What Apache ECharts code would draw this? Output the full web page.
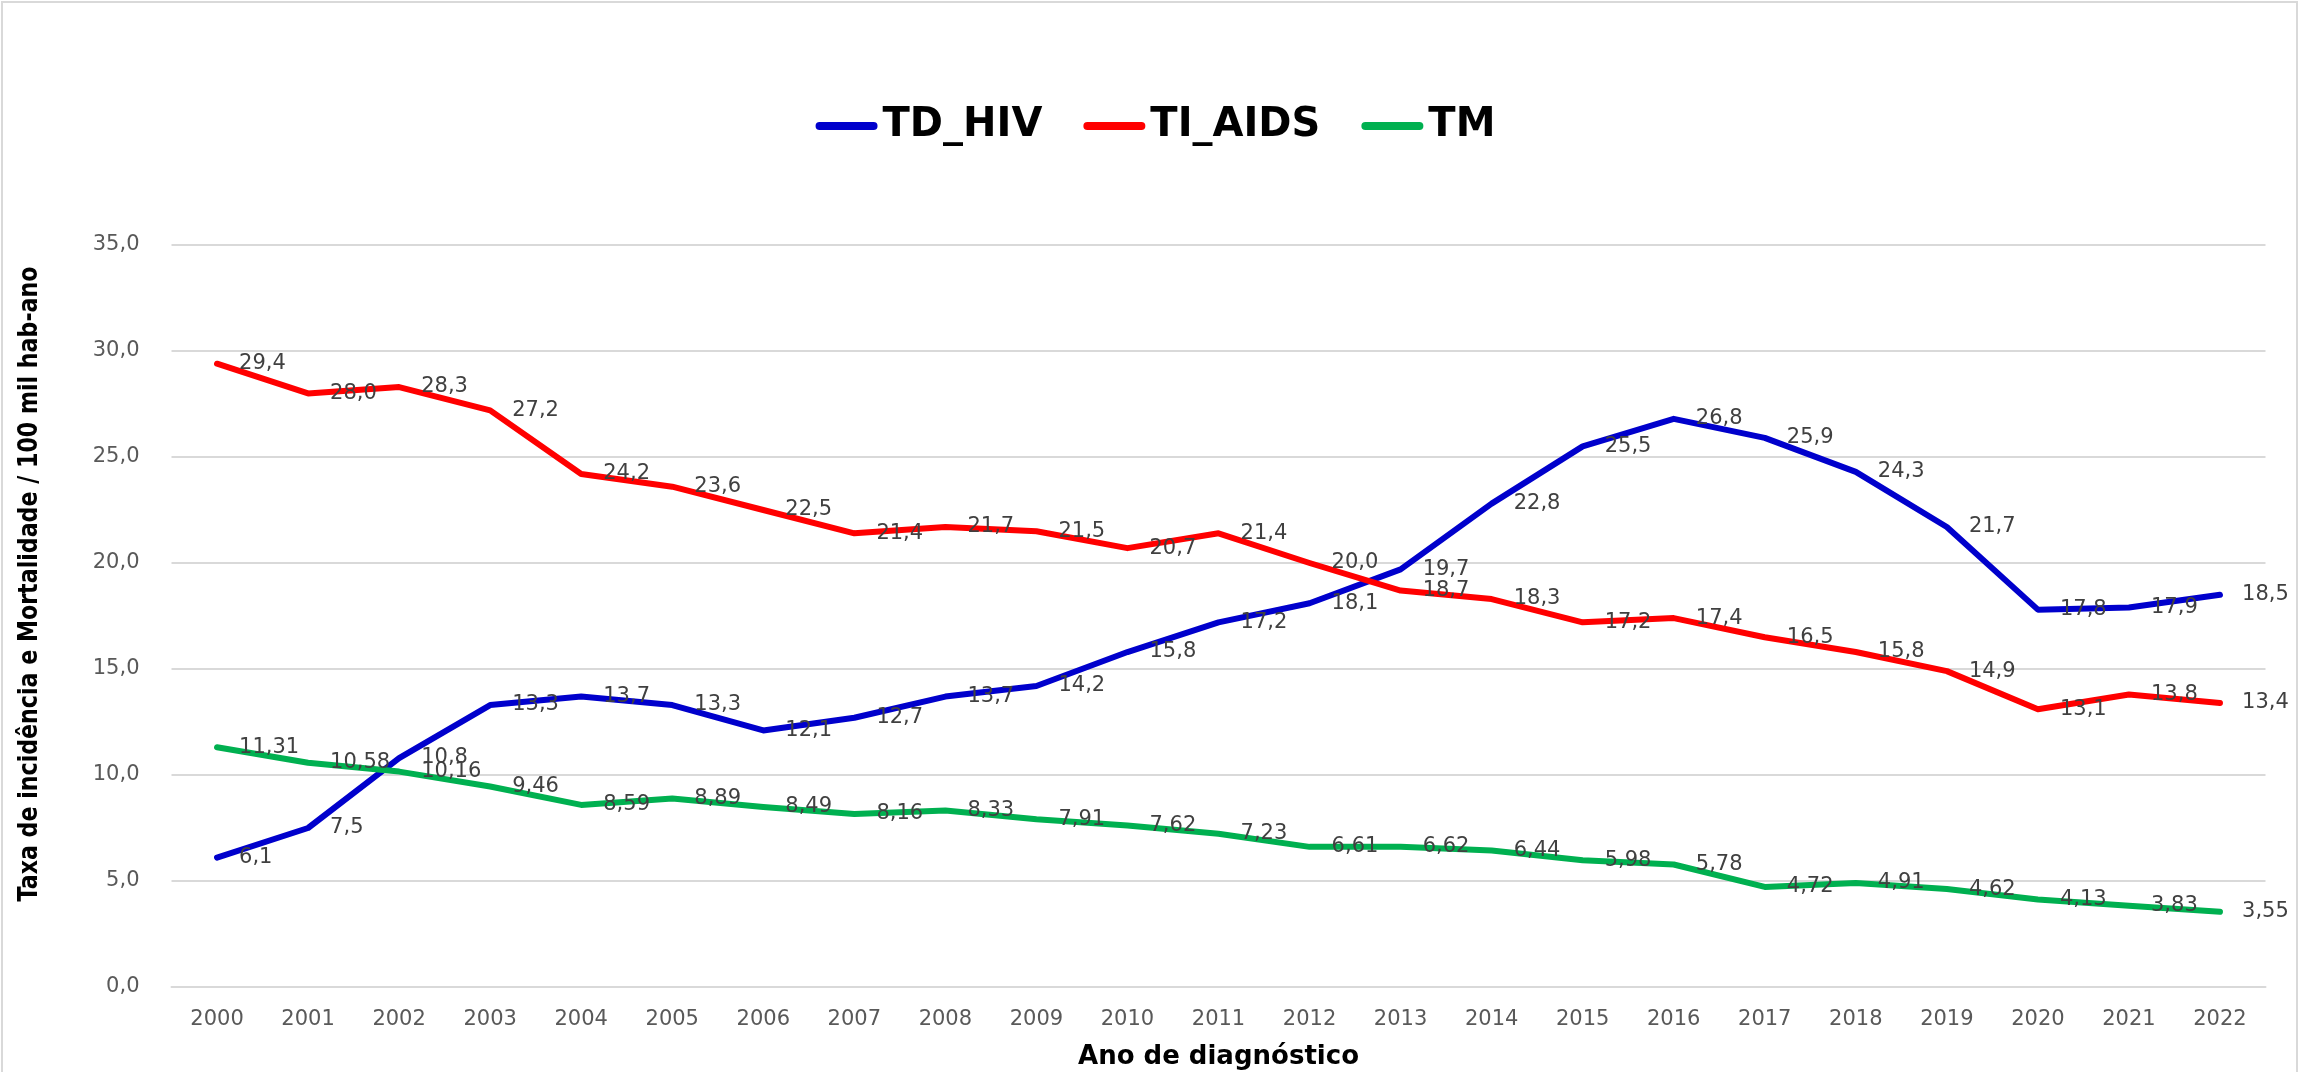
<!DOCTYPE html>
<html>
<head>
<meta charset="utf-8">
<script src="https://cdn.jsdelivr.net/npm/echarts@6/dist/echarts.min.js"></script>
<style>
  html, body { margin: 0; padding: 0; background: #fff; }
  #chart { width: 2311px; height: 1072px; }
</style>
</head>
<body>
<div id="chart"></div>
<script>
// anos de diagnóstico
var anos = ['2000', '2001', '2002', '2003', '2004', '2005', '2006', '2007', '2008', '2009', '2010',
    '2011', '2012', '2013', '2014', '2015', '2016', '2017', '2018', '2019', '2020', '2021', '2022'];

var tdHiv = [6.1, 7.5, 10.8, 13.3, 13.7, 13.3, 12.1, 12.7, 13.7, 14.2, 15.8,
    17.2, 18.1, 19.7, 22.8, 25.5, 26.8, 25.9, 24.3, 21.7, 17.8, 17.9, 18.5];
var tiAids = [29.4, 28.0, 28.3, 27.2, 24.2, 23.6, 22.5, 21.4, 21.7, 21.5, 20.7,
    21.4, 20.0, 18.7, 18.3, 17.2, 17.4, 16.5, 15.8, 14.9, 13.1, 13.8, 13.4];
var tm = [11.31, 10.58, 10.16, 9.46, 8.59, 8.89, 8.49, 8.16, 8.33, 7.91, 7.62,
    7.23, 6.61, 6.62, 6.44, 5.98, 5.78, 4.72, 4.91, 4.62, 4.13, 3.83, 3.55];

var yMin = 0, yMax = 35, yStep = 5;

function virgula(v, casas) {
    return v.toFixed(casas).replace('.', ',');
}

function serie(nome, dados, cor, casas) {
    return {
        name: nome,
        type: 'line',
        data: dados,
        symbol: 'circle',
        symbolSize: 0.1,
        itemStyle: { color: cor },
        lineStyle: { width: 6, color: cor, cap: 'round', join: 'round' },
        label: {
            show: true,
            position: 'right',
            distance: 22,
            color: '#404040',
            fontFamily: 'DejaVu Sans',
            fontSize: 21,
            formatter: function (p) { return virgula(p.value, casas); }
        },
        emphasis: { disabled: true }
    };
}

var grafico = echarts.init(document.getElementById('chart'));
var option = {
    animation: false,
    backgroundColor: '#fff',
    legend: {
        top: 99,
        left: 'center',
        itemWidth: 62,
        itemHeight: 9,
        itemGap: 41,
        icon: 'path://M4,0 H58 A4,4 0 0 1 58,8 H4 A4,4 0 0 1 4,0 Z',
        textStyle: {
            fontFamily: 'DejaVu Sans',
            fontWeight: 'bold',
            fontSize: 40,
            lineHeight: 44,
            color: '#000'
        },
        data: ['TD_HIV', 'TI_AIDS', 'TM']
    },
    grid: {
        left: 171.5,
        right: 45.5,
        top: 245,
        bottom: 85,
        containLabel: false,
        outerBoundsMode: 'none'
    },
    xAxis: {
        type: 'category',
        boundaryGap: true,
        data: anos,
        name: 'Ano de diagnóstico',
        nameLocation: 'middle',
        nameGap: 57,
        nameTextStyle: {
            fontFamily: 'DejaVu Sans',
            fontWeight: 'bold',
            fontSize: 26,
            color: '#000'
        },
        axisLine: { show: true, lineStyle: { color: '#d9d9d9', width: 2 } },
        axisTick: { show: false },
        axisLabel: {
            margin: 22,
            color: '#595959',
            fontFamily: 'DejaVu Sans',
            fontSize: 21
        }
    },
    yAxis: {
        type: 'value',
        min: yMin,
        max: yMax,
        interval: yStep,
        axisLine: { show: false },
        axisTick: { show: false },
        splitLine: { lineStyle: { color: '#d9d9d9', width: 2 } },
        axisLabel: {
            margin: 32,
            color: '#595959',
            fontFamily: 'DejaVu Sans',
            fontSize: 21,
            formatter: function (v) { return virgula(v, 1); }
        }
    },
    graphic: [
        {
            type: 'rect',
            shape: { x: 2, y: 2, width: 2295, height: 1100 },
            style: { fill: 'none', stroke: '#d9d9d9', lineWidth: 2 },
            silent: true
        },
        {
            // título do eixo Y, estreitado como no original
            type: 'text',
            x: 30,
            y: 584,
            rotation: Math.PI / 2,
            scaleX: 0.82,
            style: {
                text: 'Taxa de incidência e Mortalidade / 100 mil hab-ano',
                fontFamily: 'DejaVu Sans',
                fontWeight: 'bold',
                fontSize: 27,
                fill: '#000',
                align: 'center',
                verticalAlign: 'middle'
            }
        }
    ],
    series: [
        serie('TD_HIV', tdHiv, '#0000CC', 1),
        serie('TI_AIDS', tiAids, '#FF0000', 1),
        serie('TM', tm, '#00B050', 2)
    ]
};
grafico.setOption(option);
</script>
</body>
</html>
